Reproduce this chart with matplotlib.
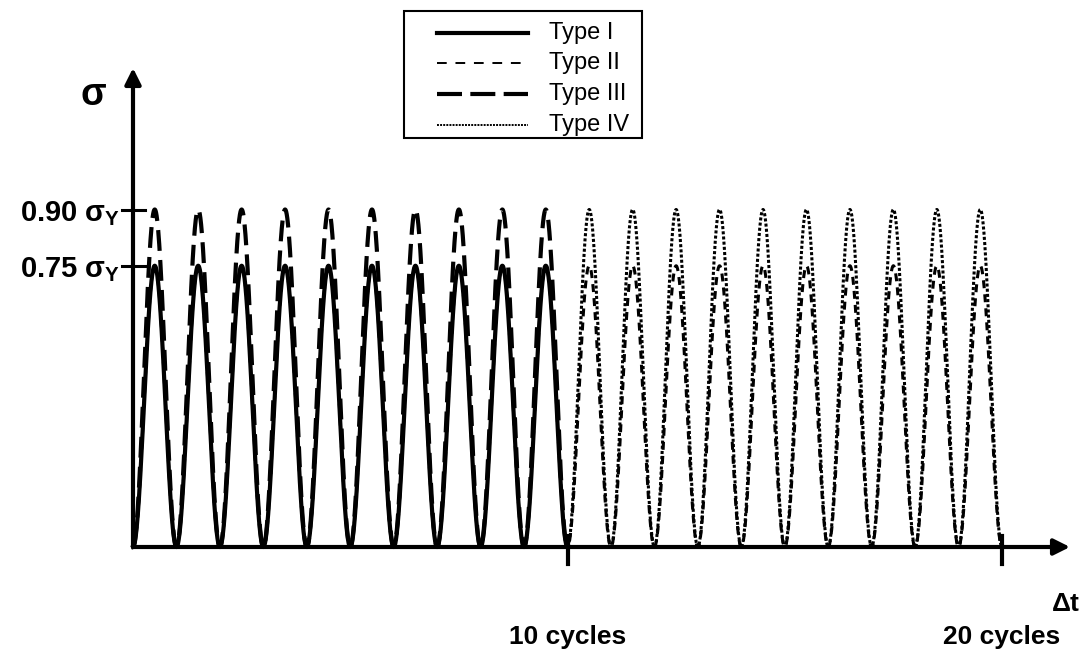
import numpy as np
import matplotlib.pyplot as plt
from matplotlib.patches import Rectangle

plt.rcParams['font.family'] = ['Liberation Sans', 'DejaVu Sans']
plt.rcParams['mathtext.fontset'] = 'custom'
plt.rcParams['mathtext.rm'] = 'Liberation Sans'
plt.rcParams['mathtext.bf'] = 'Liberation Sans:bold'

# load types: label, peak stress (fraction of sigma_Y), first and last cycle
tipos = ['Type I', 'Type II', 'Type III', 'Type IV']
picos = [0.75, 0.75, 0.90, 0.90]
ciclo_ini = [0, 0, 0, 10]
ciclo_fin = [10, 20, 10, 20]
estilos = ['-', (0, (2.6, 2.0)), (0, (5.0, 2.2)), (0, (1.0, 0.7))]
grosores = [3.0, 2.2, 3.0, 2.2]
grosores_ley = [3.0, 1.4, 3.0, 1.4]
estilos_ley = ['-', (0, (5.0, 4.5)), (0, (6.0, 2.0)), (0, (1.0, 0.6))]

ticks_y = [0.75, 0.90]
ticks_y_txt = [r'0.75 $\mathbf{σ}_{\mathbf{Y}}$', r'0.90 $\mathbf{σ}_{\mathbf{Y}}$']
ticks_x = [10, 20]
ticks_x_txt = ['10 cycles', '20 cycles']

W, H = 1086, 655
fig = plt.figure(figsize=(W / 100, H / 100), dpi=100)

# pixel overlay for legend box and loose labels
pix = fig.add_axes([0, 0, 1, 1])
pix.set_xlim(0, W)
pix.set_ylim(H, 0)
pix.axis('off')

x0, y0, x1, y1 = 133, 547, 1070, 68
ax = fig.add_axes([x0 / W, 1 - y0 / H, (x1 - x0) / W, (y0 - y1) / H])
px_ciclo = 43.45
px_unidad = 375.0
ax.set_xlim(0, (x1 - x0) / px_ciclo)
ax.set_ylim(0, (y0 - y1) / px_unidad)
ax.axis('off')

for nom, pk, a, b, ls, lw in zip(tipos, picos, ciclo_ini, ciclo_fin, estilos, grosores):
    t = np.linspace(a, b, 3000)
    s = pk * (1 - np.cos(2 * np.pi * t)) / 2
    ax.plot(t, s, color='black', linestyle=ls, linewidth=lw, label=nom, clip_on=False)

# axes with arrow heads
xmax = ax.get_xlim()[1]
ymax = ax.get_ylim()[1]
for tip in [(xmax, 0), (0, ymax)]:
    ax.annotate('', xy=tip, xytext=(0, 0),
                arrowprops=dict(arrowstyle='-|>', color='black', lw=3, mutation_scale=24,
                                shrinkA=0, shrinkB=0),
                annotation_clip=False)

# tick marks and labels
for v, txt in zip(ticks_y, ticks_y_txt):
    ax.plot([-0.25, 0.28], [v, v], color='black', lw=2.2, clip_on=False)
    ax.text(-0.3, v - 0.01, txt, ha='right', va='center', fontsize=21, fontweight='bold')
for v, txt in zip(ticks_x, ticks_x_txt):
    ax.plot([v, v], [-0.045, 0.03], color='black', lw=3, clip_on=False)
    ax.text(v, -0.24, txt, ha='center', va='center', fontsize=19, fontweight='bold')

pix.text(93, 95, 'σ', ha='center', va='center', fontsize=27, fontweight='bold')
pix.text(1066, 604, 'Δt', ha='center', va='center', fontsize=19, fontweight='bold')

# legend drawn by hand
pix.add_patch(Rectangle((404, 11), 238, 127, facecolor='white', edgecolor='black', lw=1.5))
filas = [33, 63, 94, 125]
for fy, nom, ls, lw in zip(filas, tipos, estilos_ley, grosores_ley):
    pix.plot([437, 528], [fy, fy], color='black', linestyle=ls, linewidth=lw)
    pix.text(549, fy, nom, ha='left', va='center', fontsize=17)

fig.savefig('out.png', dpi=100)
